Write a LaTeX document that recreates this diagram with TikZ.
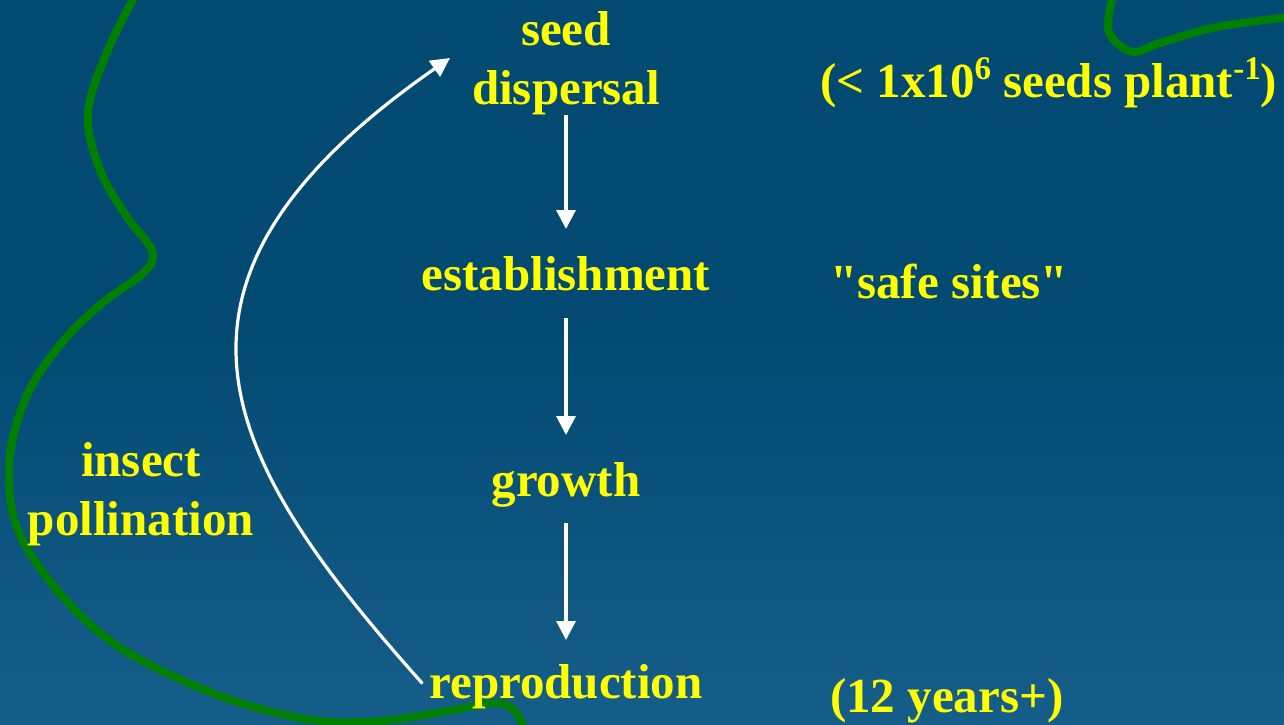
\documentclass[tikz,border=0pt]{standalone}
\usepackage{fontspec}
\setmainfont{Liberation Serif}[Ligatures=TeXOff]
\usetikzlibrary{arrows.meta}
\definecolor{bgtop}{RGB}{2,74,114}
\definecolor{bgbot}{RGB}{22,94,138}
\definecolor{leaf}{RGB}{0,128,0}
\definecolor{txt}{RGB}{255,255,0}
\newcommand{\supx}[1]{\raisebox{0.36em}{\fontsize{16.5}{16.5}\selectfont #1}}
\begin{document}
\begin{tikzpicture}[x=0.5pt,y=-0.5pt,
  lbl/.style={text=txt, font=\fontsize{24.5}{29.5}\selectfont\bfseries, inner sep=0pt, outer sep=0pt},
  flow/.style={draw=white, line width=1.6pt, -{Triangle[width=9.5pt,length=9.5pt]}},
  vine/.style={draw=leaf, line width=4pt, line cap=round}]
\useasboundingbox (0,0) rectangle (1284,724);
\fill[bgtop] (0,0) rectangle (1284,331);
\shade[top color=bgtop,bottom color=bgbot] (0,330) rectangle (1284,724);
% green vines
\draw[vine] plot[smooth, tension=0.6] coordinates {(136,-6) (108,50) (88,113) (100,170) (127,217) (147,242) (153,258) (141,275) (100,305) (60,345) (25,400) (9,470) (25,545) (100,633) (200,688) (300,718) (380,721) (470,707) (495,703) (513,709) (524,728)};
\draw[vine] plot[smooth, tension=0.6] coordinates {(1113,-6) (1108,27) (1117,43) (1135,52) (1160,43) (1217,27) (1290,17)};
% stages
\node[lbl, align=center] (disp) at (566,63) {seed\\dispersal};
\node[lbl, anchor=base] (est) at (566,290) {establishment};
\node[lbl, anchor=base] (grow) at (566,496) {growth};
\node[lbl, anchor=base] (repro) at (566,698) {reproduction};
\node[lbl, align=center] (ins) at (141,494) {insect\\pollination};
% notes
\node[lbl, anchor=base west] (seeds) at (820,97) {(< 1x10\supx{6} seeds plant\supx{-1})};
\node[lbl, anchor=base west] (safe) at (830,298) {"safe sites"};
\node[lbl, anchor=base west] (years) at (830,712) {(12 years+)};
% arrows
\draw[flow, shorten >=13.5pt] (disp.south) -- (est.north);
\draw[flow, shorten <=14pt, shorten >=13.5pt] (est.south) -- (grow.north);
\draw[flow, shorten <=8pt, shorten >=12pt] (grow.south) -- (repro.north);
\coordinate (cs) at (422,683);
\coordinate (ce) at (450,58);
\draw[flow, line cap=round] (cs) .. controls (222,459) and (125,284) .. (ce);
\end{tikzpicture}
\end{document}
